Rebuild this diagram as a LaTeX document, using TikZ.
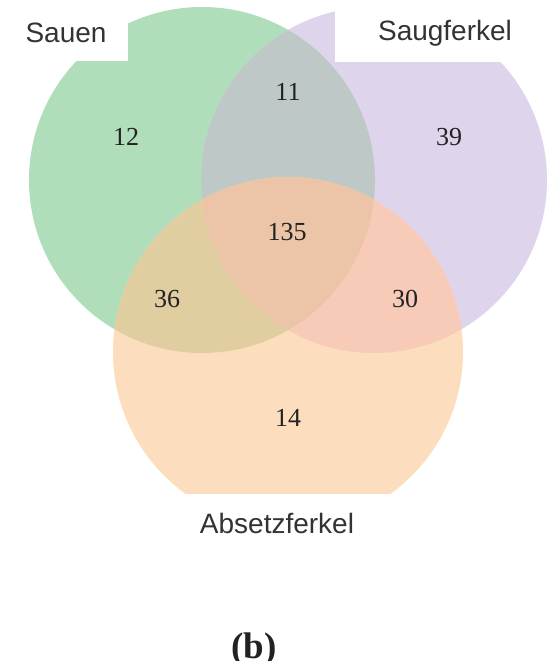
\documentclass[tikz,border=0pt]{standalone}
\usepackage{fontspec}
\setmainfont{Liberation Serif}
\newfontfamily\labelfont{Liberation Sans}
\definecolor{cG}{RGB}{176,222,186}
\definecolor{cP}{RGB}{222,212,236}
\definecolor{cO}{RGB}{252,222,190}
\definecolor{cGP}{RGB}{189,200,199}
\definecolor{cGO}{RGB}{224,206,160}
\definecolor{cPO}{RGB}{248,202,184}
\definecolor{cGPO}{RGB}{236,196,167}
\definecolor{labeltext}{RGB}{51,51,51}
\definecolor{numtext}{RGB}{34,34,34}
\tikzset{
  setlabel/.style={font=\labelfont\fontsize{28}{32}\selectfont, text=labeltext, inner sep=0pt},
  countnum/.style={font=\fontsize{26}{30}\selectfont, text=numtext, inner sep=0pt},
  whitebox/.style={fill=white, draw=none}
}
\def\circG{(202,180) circle[radius=173pt]}
\def\circP{(374,180) circle[radius=173pt]}
\def\circO{(288,352) circle[radius=175pt]}
\begin{document}
\begin{tikzpicture}[x=1pt,y=-1pt]
\useasboundingbox (0,0) rectangle (551,661);
\clip (0,0) rectangle (551,661);
\fill[white] (0,0) rectangle (551,661);
\begin{scope}
  \clip (0,0) rectangle (551,493);
  \fill[cG] \circG;
  \fill[cP] \circP;
  \fill[cO] \circO;
  \begin{scope}
    \clip \circG;
    \fill[cGP] \circP;
    \fill[cGO] \circO;
  \end{scope}
  \begin{scope}
    \clip \circP;
    \fill[cPO] \circO;
  \end{scope}
  \begin{scope}
    \clip \circG;
    \clip \circP;
    \fill[cGPO] \circO;
  \end{scope}
\end{scope}
\fill[whitebox] (0,0) rectangle (128,61);
\fill[whitebox] (335,0) rectangle (551,62);
\node[setlabel] (sauen) at (66,33) {Sauen};
\node[setlabel] (saug) at (445,33) {Saugferkel};
\node[setlabel] (absetz) at (277,523) {Absetzferkel};
\node[countnum] (n12) at (126,137) {12};
\node[countnum] (n11) at (288,92) {11};
\node[countnum] (n39) at (449,137) {39};
\node[countnum] (n135) at (287,232) {135};
\node[countnum] (n36) at (167,299) {36};
\node[countnum] (n30) at (405,299) {30};
\node[countnum] (n14) at (288,418) {14};
\node[font=\bfseries\fontsize{37}{40}\selectfont, text=numtext, anchor=base, inner sep=0pt] (sub) at (254,658) {(b)};
\end{tikzpicture}
\end{document}
